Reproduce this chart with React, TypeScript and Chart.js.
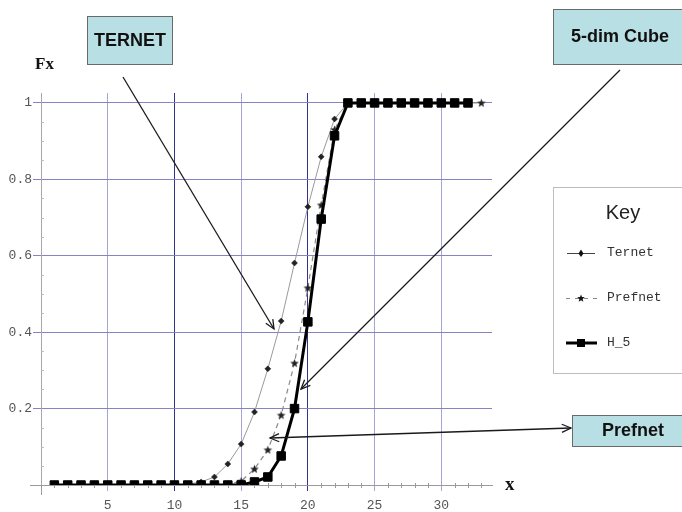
import React, { useEffect, useRef } from 'react';
import { Chart, registerables } from 'chart.js';
Chart.register(...registerables);

// ---- data ----
const ternetX = [1,2,3,4,5,6,7,8,9,10,11,12,13,14,15,16,17,18,19,20,21,22,23,24,25,26,27,28,29,30,31,32];
const ternetY = [0,0,0,0,0,0,0,0,0,0,0.002,0.008,0.021,0.055,0.107,0.191,0.304,0.429,0.581,0.728,0.859,0.958,1,1,1,1,1,1,1,1,1,1];

const prefnetX = [1,2,3,4,5,6,7,8,9,10,11,12,13,14,15,16,17,18,19,20,21,22,23,24,25,26,27,28,29,30,31,32,33];
const prefnetY = [0,0,0,0,0,0,0,0,0,0,0,0,0,0.002,0.01,0.042,0.092,0.183,0.319,0.516,0.733,0.93,1,1,1,1,1,1,1,1,1,1,1];

const h5X = [1,2,3,4,5,6,7,8,9,10,11,12,13,14,15,16,17,18,19,20,21,22,23,24,25,26,27,28,29,30,31,32];
const h5Y = [0,0,0,0,0,0,0,0,0,0,0,0,0,0,0,0.008,0.021,0.076,0.2,0.427,0.696,0.914,1,1,1,1,1,1,1,1,1,1];

const xTicks = [5, 10, 15, 20, 25, 30];
const yTicks = [0.2, 0.4, 0.6, 0.8, 1];

const seriesNames = ['Ternet', 'Prefnet', 'H_5'];
const annotationLabels = ['TERNET', '5-dim Cube', 'Prefnet'];

function drawStar(ctx: CanvasRenderingContext2D, cx: number, cy: number, ro: number, ri: number) {
  ctx.beginPath();
  for (let i = 0; i < 10; i++) {
    const r = i % 2 === 0 ? ro : ri;
    const a = -Math.PI / 2 + (i * Math.PI) / 5;
    const px = cx + r * Math.cos(a);
    const py = cy + r * Math.sin(a);
    if (i === 0) ctx.moveTo(px, py); else ctx.lineTo(px, py);
  }
  ctx.closePath();
  ctx.fill();
}

function drawArrowHead(ctx: CanvasRenderingContext2D, fx: number, fy: number, tx: number, ty: number) {
  const ang = Math.atan2(ty - fy, tx - fx);
  const len = 10;
  const spread = 0.42;
  ctx.beginPath();
  ctx.moveTo(tx - len * Math.cos(ang - spread), ty - len * Math.sin(ang - spread));
  ctx.lineTo(tx, ty);
  ctx.lineTo(tx - len * Math.cos(ang + spread), ty - len * Math.sin(ang + spread));
  ctx.stroke();
}

function drawArrow(ctx: CanvasRenderingContext2D, x1: number, y1: number, x2: number, y2: number, both = false) {
  ctx.beginPath();
  ctx.moveTo(x1, y1);
  ctx.lineTo(x2, y2);
  ctx.stroke();
  drawArrowHead(ctx, x1, y1, x2, y2);
  if (both) drawArrowHead(ctx, x2, y2, x1, y1);
}

function drawBox(ctx: CanvasRenderingContext2D, x: number, y: number, w: number, h: number, text: string, cx: number) {
  ctx.save();
  ctx.fillStyle = '#b8dfe4';
  ctx.strokeStyle = '#6a6a6a';
  ctx.lineWidth = 1;
  ctx.fillRect(x, y, w, h);
  ctx.strokeRect(x + 0.5, y + 0.5, w, h);
  ctx.fillStyle = '#111';
  ctx.font = "bold 18px 'Liberation Sans', Arial, sans-serif";
  ctx.textAlign = 'center';
  ctx.textBaseline = 'middle';
  ctx.fillText(text, cx, y + h / 2 + 1);
  ctx.restore();
}

const overlayPlugin = {
  id: 'overlay',
  beforeDatasetsDraw(chart: any) {
    const ctx: CanvasRenderingContext2D = chart.ctx;
    const xs = chart.scales.x;
    const ys = chart.scales.y;
    const y0 = ys.getPixelForValue(0);
    const xa = xs.getPixelForValue(0);
    ctx.save();
    ctx.strokeStyle = '#9a9a9a';
    ctx.lineWidth = 1;
    ctx.beginPath();
    ctx.moveTo(xa - 11, y0 + 0.5);
    ctx.lineTo(xa, y0 + 0.5);
    ctx.moveTo(xa + 0.5, y0);
    ctx.lineTo(xa + 0.5, y0 + 10);
    ctx.stroke();
    ctx.strokeStyle = '#999';
    for (let i = 1; i <= 33; i++) {
      if (i % 5 === 0) continue;
      const px = Math.round(xs.getPixelForValue(i)) + 0.5;
      ctx.beginPath();
      ctx.moveTo(px, y0 - 2);
      ctx.lineTo(px, y0 + 3);
      ctx.stroke();
    }
    ctx.strokeStyle = '#bbb';
    for (let k = 1; k <= 20; k++) {
      if (k % 4 === 0) continue;
      const py = Math.round(ys.getPixelForValue(k * 0.05)) + 0.5;
      ctx.beginPath();
      ctx.moveTo(xa, py);
      ctx.lineTo(xa + 3, py);
      ctx.stroke();
    }
    ctx.restore();
  },
  afterDraw(chart: any) {
    const ctx: CanvasRenderingContext2D = chart.ctx;
    const ys = chart.scales.y;
    ctx.save();
    ctx.fillStyle = '#111';
    ctx.font = "bold 17px 'Liberation Serif', serif";
    ctx.textBaseline = 'alphabetic';
    ctx.textAlign = 'left';
    ctx.fillText('Fx', 35, 69);
    ctx.font = "bold 19px 'Liberation Serif', serif";
    ctx.fillText('x', 505, ys.getPixelForValue(0) + 5);

    ctx.strokeStyle = '#1a1a1a';
    ctx.lineWidth = 1.3;
    drawArrow(ctx, 123, 77, 274, 329);
    drawArrow(ctx, 620, 70, 301, 389);
    drawArrow(ctx, 270, 438, 571, 428, true);

    drawBox(ctx, 87, 16, 85, 48, annotationLabels[0], 130);
    drawBox(ctx, 553, 9, 135, 55, annotationLabels[1], 620);
    drawBox(ctx, 572, 415, 120, 31, annotationLabels[2], 633);

    ctx.fillStyle = '#fff';
    ctx.fillRect(553, 187, 135, 186);
    ctx.strokeStyle = '#bdbdbd';
    ctx.lineWidth = 1;
    ctx.strokeRect(553.5, 187.5, 135, 186);
    ctx.fillStyle = '#222';
    ctx.font = "20px 'Liberation Sans', Arial, sans-serif";
    ctx.textAlign = 'center';
    ctx.textBaseline = 'middle';
    ctx.fillText('Key', 623, 213);

    const rows = [253, 298, 343];
    ctx.strokeStyle = '#444';
    ctx.lineWidth = 1;
    ctx.beginPath();
    ctx.moveTo(567, rows[0] + 0.5);
    ctx.lineTo(595, rows[0] + 0.5);
    ctx.stroke();
    ctx.fillStyle = '#111';
    ctx.beginPath();
    ctx.moveTo(581, rows[0] - 3.5);
    ctx.lineTo(583.5, rows[0] + 0.5);
    ctx.lineTo(581, rows[0] + 4);
    ctx.lineTo(578.5, rows[0] + 0.5);
    ctx.closePath();
    ctx.fill();
    ctx.strokeStyle = '#888';
    ctx.setLineDash([4, 5]);
    ctx.beginPath();
    ctx.moveTo(566, rows[1] + 0.5);
    ctx.lineTo(597, rows[1] + 0.5);
    ctx.stroke();
    ctx.setLineDash([]);
    ctx.fillStyle = '#111';
    drawStar(ctx, 581, rows[1] + 0.5, 4, 1.7);
    ctx.strokeStyle = '#000';
    ctx.lineWidth = 3;
    ctx.beginPath();
    ctx.moveTo(566, rows[2]);
    ctx.lineTo(597, rows[2]);
    ctx.stroke();
    ctx.fillStyle = '#000';
    ctx.fillRect(577, rows[2] - 4, 8, 8);

    ctx.fillStyle = '#333';
    ctx.font = "13px 'Liberation Mono', 'DejaVu Sans Mono', monospace";
    ctx.textAlign = 'left';
    ctx.textBaseline = 'middle';
    ctx.fillText(seriesNames[0], 607, rows[0]);
    ctx.fillText(seriesNames[1], 607, rows[1]);
    ctx.fillText(seriesNames[2], 607, rows[2]);
    ctx.restore();
  },
};

export default function App() {
  const ref = useRef<HTMLCanvasElement | null>(null);

  useEffect(() => {
    if (!ref.current) return;
    document.body.style.margin = '0';

    const starCanvas = document.createElement('canvas');
    starCanvas.width = 11;
    starCanvas.height = 11;
    const sctx = starCanvas.getContext('2d')!;
    sctx.fillStyle = '#222';
    drawStar(sctx, 5.5, 5.8, 4.6, 1.9);

    const mk = (xs: number[], ys: number[]) => xs.map((x, i) => ({ x, y: ys[i] }));

    const chart = new Chart(ref.current, {
      type: 'line',
      data: {
        datasets: [
          {
            label: seriesNames[0],
            data: mk(ternetX, ternetY),
            borderColor: '#9a9a9a',
            borderWidth: 1,
            pointStyle: 'rectRot',
            pointRadius: 3,
            pointBackgroundColor: '#222',
            pointBorderColor: '#222',
            pointBorderWidth: 0.5,
            tension: 0,
            order: 2,
          },
          {
            label: seriesNames[1],
            data: mk(prefnetX, prefnetY),
            borderColor: '#8a8a8a',
            borderWidth: 1.2,
            borderDash: [5, 4],
            pointStyle: starCanvas as any,
            pointRadius: 5,
            tension: 0,
            order: 1,
          },
          {
            label: seriesNames[2],
            data: mk(h5X, h5Y),
            borderColor: '#000',
            borderWidth: 3,
            pointStyle: 'rect',
            pointRadius: 6,
            pointBackgroundColor: '#000',
            pointBorderColor: '#000',
            pointBorderWidth: 1,
            tension: 0,
            order: 0,
          },
        ],
      },
      options: {
        animation: false,
        responsive: false,
        layout: { padding: { top: 93, right: 190, left: 0, bottom: 0 } },
        plugins: { legend: { display: false }, tooltip: { enabled: false } },
        scales: {
          x: {
            type: 'linear',
            min: 0,
            max: 33.8,
            afterFit: (s: any) => { s.height = 27; },
            afterBuildTicks: (s: any) => { s.ticks = xTicks.map((v) => ({ value: v })); },
            ticks: {
              font: { family: "'Liberation Mono', monospace", size: 13 },
              color: '#555',
              padding: 7,
              maxRotation: 0,
              autoSkip: false,
            },
            grid: {
              color: (c: any) => {
                const v = c.tick ? c.tick.value : 0;
                return v === 10 || v === 20 ? '#33338a' : '#a6a6d6';
              },
              tickLength: 6,
              lineWidth: 1,
            },
            border: { color: '#9a9a9a', width: 1 },
          },
          y: {
            type: 'linear',
            min: 0,
            max: 1.026,
            afterFit: (s: any) => { s.width = 41; },
            afterBuildTicks: (s: any) => { s.ticks = yTicks.map((v) => ({ value: v })); },
            ticks: {
              font: { family: "'Liberation Mono', monospace", size: 13 },
              color: '#555',
              padding: 1,
              callback: (v: any) => String(v),
            },
            grid: {
              color: '#8484c4',
              tickLength: 8,
              lineWidth: 1,
            },
            border: { color: '#a8a8a8', width: 1 },
          },
        },
      },
      plugins: [overlayPlugin],
    });
    return () => chart.destroy();
  }, []);

  return (
    <div style={{ position: 'fixed', left: 0, top: 0, width: 682, height: 512, background: '#fff' }}>
      <canvas ref={ref} width={682} height={512} style={{ display: 'block', width: 682, height: 512 }} />
    </div>
  );
}
